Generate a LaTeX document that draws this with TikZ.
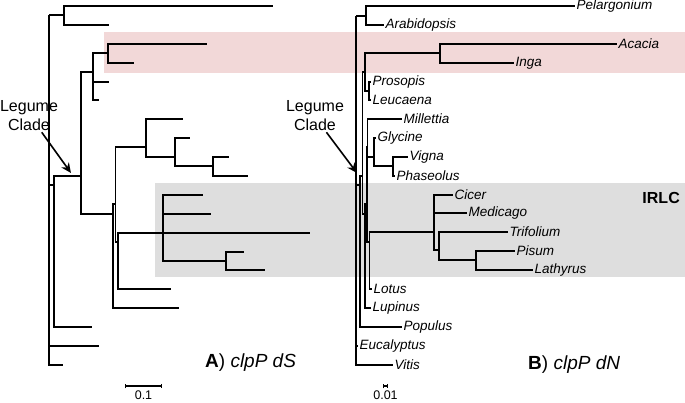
\documentclass[tikz,border=0pt]{standalone}
\usepackage{fontspec}
\setmainfont{Liberation Sans}
\usetikzlibrary{arrows.meta}
\definecolor{pinkband}{RGB}{242,216,216}
\definecolor{greyband}{RGB}{222,222,222}

\begin{document}
\begin{tikzpicture}[x=1pt,y=-1pt,
    % 枝条、物种名、说明文字的样式
    branch/.style={line width=1.5pt},
    taxon/.style={anchor=west,inner sep=1.5pt,font=\fontsize{13.5}{16}\selectfont\itshape},
    cladetext/.style={align=center,inner sep=1pt,font=\fontsize{16}{19}\selectfont},
    legarrow/.style={line width=1.6pt,-{Stealth[length=10pt,width=9pt]}},
    paneltext/.style={anchor=west,inner sep=0pt,font=\fontsize{19}{22}\selectfont},
    scalebar/.style={line width=1.2pt,{Bar[width=4.5pt]}-{Bar[width=4.5pt]}},
    scaletext/.style={inner sep=0pt,font=\fontsize{12.5}{15}\selectfont}]

    \useasboundingbox (0,0) rectangle (685,402);

    % 背景色带: 粉色和灰色
    \fill[pinkband] (104,32) rectangle (685,73);
    \fill[greyband] (155,183) rectangle (685,277);

    % A) dS 树的叶子
    \foreach \n/\x/\y in {aPel/273/6, aAra/109/25, aAca/207/44, aIng/134/63,
        aPro/109/82, aLeu/99/100, aMil/183/119, aGly/190/138, aVig/229/157,
        aPha/248/176, aCic/203/195, aMed/211/214, aTri/310/233, aPis/244/252,
        aLat/265/270, aLot/171/289, aLup/179/308, aPop/92/327, aEuc/99/346,
        aVit/63/365}
    \coordinate (\n) at (\x,\y);

    % A) dS 树的内部结点
    \foreach \n/\x/\y in {aRoot/49/15, aN1/64/15, aN2/54/185, aLeg/81/176,
        aN3/93/72, aN4/108/53, aN5/113/214, aN6/115.5/204, aN7/146/147,
        aN8/175/157, aN9/213/166, aN10/118/242, aIRLC/163/233, aN11/226/261}
    \coordinate (\n) at (\x,\y);

    % A) dS 树的枝条
    \foreach \p/\c in {aRoot/aN1, aRoot/aN2, aRoot/aEuc, aRoot/aVit,
        aN1/aPel, aN1/aAra, aN2/aLeg, aN2/aPop, aLeg/aN3, aLeg/aN5,
        aN3/aN4, aN3/aPro, aN3/aLeu, aN4/aAca, aN4/aIng, aN5/aN6, aN5/aLup,
        aN6/aN7, aN6/aN10, aN7/aMil, aN7/aN8, aN8/aGly, aN8/aN9,
        aN9/aVig, aN9/aPha, aN10/aIRLC, aN10/aLot, aIRLC/aCic, aIRLC/aMed,
        aIRLC/aTri, aIRLC/aN11, aN11/aPis, aN11/aLat}
        \draw[branch] (\p) |- (\c);

    % B) dN 树的叶子和物种名
    \foreach \n/\x/\y/\t in {bPel/575/6/Pelargonium, bAra/384/25/Arabidopsis,
        bAca/617/44/Acacia, bIng/514/63/Inga, bPro/371/82/Prosopis,
        bLeu/371/100/Leucaena, bMil/402/119/Millettia, bGly/376/138/Glycine,
        bVig/408/157/Vigna, bPha/395/176/Phaseolus, bCic/453/195/Cicer,
        bMed/467/213/Medicago, bTri/508/232/Trifolium, bPis/515/251/Pisum,
        bLat/533/270/Lathyrus, bLot/372/289/Lotus, bLup/371/308/Lupinus,
        bPop/402/327/Populus, bEuc/358/346/Eucalyptus, bVit/393/365/Vitis}
    {
        \coordinate (\n) at (\x,\y);
        \node[taxon] (\n-lab) at (\n) {\t};
    }

    % B) dN 树的内部结点
    \foreach \n/\x/\y in {bRoot/356/16, bN1/366/16, bN2/360/185, bLeg/362.5/176,
        bN3/365/72, bN4/440/53, bN12/369/91, bN5/365/214, bN6/367/204,
        bN7/367.5/147, bN8/374/157, bN9/393/166, bN10/369.5/242,
        bIRLC/434/232, bN11/439/250, bN13/476/260}
    \coordinate (\n) at (\x,\y);

    % B) dN 树的枝条
    \foreach \p/\c in {bRoot/bN1, bRoot/bN2, bRoot/bEuc, bRoot/bVit,
        bN1/bPel, bN1/bAra, bN2/bLeg, bN2/bPop, bLeg/bN3, bLeg/bN5,
        bN3/bN4, bN3/bN12, bN4/bAca, bN4/bIng, bN12/bPro, bN12/bLeu,
        bN5/bN6, bN5/bLup, bN6/bN7, bN6/bN10, bN7/bMil, bN7/bN8,
        bN8/bGly, bN8/bN9, bN9/bVig, bN9/bPha, bN10/bIRLC, bN10/bLot,
        bIRLC/bCic, bIRLC/bMed, bIRLC/bN11, bN11/bTri, bN11/bN13,
        bN13/bPis, bN13/bLat}
        \draw[branch] (\p) |- (\c);

    % 豆科分支的说明和箭头
    \node[cladetext] (aLegText) at (29,116) {Legume\\Clade};
    \coordinate (aTip) at (71,173);
    \draw[legarrow] (aLegText.-52) -- (aTip);

    \node[cladetext] (bLegText) at (315,116) {Legume\\Clade};
    \coordinate (bTip) at (357,173);
    \draw[legarrow] (bLegText.-55) -- (bTip);

    \node[anchor=east,inner sep=0pt,font=\fontsize{16}{19}\selectfont\bfseries] (irlc) at (680,198) {IRLC};

    % 图题
    \node[paneltext] (aTitle) at (205,363) {\textbf{A}) \textit{clpP dS}};
    \node[paneltext] (bTitle) at (528,365) {\textbf{B}) \textit{clpP dN}};

    % 比例尺
    \coordinate (aSL) at (125,386);
    \coordinate (aSR) at (162,386);
    \draw[scalebar] (aSL) -- (aSR);
    \node[scaletext] (aScale) at (143.5,395.5) {0.1};

    \coordinate (bSL) at (383,386);
    \coordinate (bSR) at (388,386);
    \draw[scalebar] (bSL) -- (bSR);
    \node[scaletext] (bScale) at (385.5,395.5) {0.01};
\end{tikzpicture}
\end{document}
